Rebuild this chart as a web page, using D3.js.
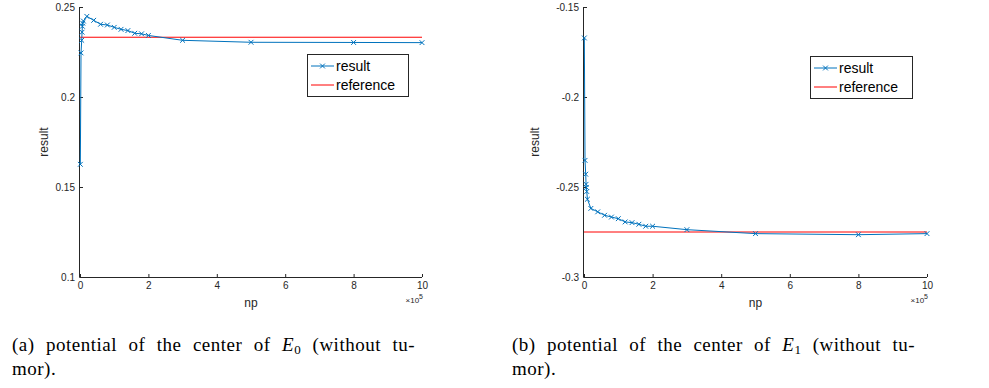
<!DOCTYPE html>
<html>
<head>
<meta charset="utf-8">
<script src="https://cdn.jsdelivr.net/npm/d3@7"></script>
<style>
  body { margin: 0; background: #fff; }
  svg { display: block; }
  .tick text { font-family: "Liberation Sans", Arial, sans-serif; font-size: 10px; fill: #262626; }
  .axis path, .axis line { stroke: #262626; }
</style>
</head>
<body>
<script>
// np values in units of 1e5
const npValues = [0.01, 0.03, 0.05, 0.06, 0.07, 0.08, 0.1, 0.2, 0.4, 0.6, 0.8, 1.0, 1.2, 1.4, 1.6, 1.8, 2.0, 3, 5, 8, 10];
const resultE0 = [0.1626, 0.2245, 0.2315, 0.236, 0.2393, 0.241, 0.2422, 0.2448, 0.2426, 0.2404, 0.2400, 0.2387, 0.2376, 0.2369, 0.2354, 0.2351, 0.2342, 0.2315, 0.2304, 0.2303, 0.2302];
const resultE1 = [-0.1672, -0.2352, -0.2429, -0.2485, -0.2502, -0.2525, -0.2568, -0.2619, -0.2638, -0.2657, -0.2667, -0.2676, -0.2694, -0.2698, -0.2707, -0.2718, -0.2718, -0.2737, -0.2759, -0.2765, -0.2759];
const referenceE0 = 0.2332;
const referenceE1 = -0.2750;
const xTicks = [0, 2, 4, 6, 8, 10];
const yTicksE0 = [0.1, 0.15, 0.2, 0.25];
const yTicksE1 = [-0.3, -0.25, -0.2, -0.15];
const legendLabels = ["result", "reference"];

const width = 989;
const height = 388;
const blue = "#0072BD";
const red = "#FF0000";

const svg = d3.select("body").append("svg")
  .attr("width", width)
  .attr("height", height);

svg.append("rect").attr("width", width).attr("height", height).attr("fill", "#fff");

const panels = [
  { left: 80, right: 422, values: resultE0, ref: referenceE0, domain: [0.1, 0.25], yTicks: yTicksE0,
    legend: { x: 307, y: 54, w: 101, h: 42 }, ylabelX: 48,
    caption: { x: 12, w: 403, letter: "(a)", sub: "0" } },
  { left: 584, right: 927, values: resultE1, ref: referenceE1, domain: [-0.3, -0.15], yTicks: yTicksE1,
    legend: { x: 810, y: 56, w: 102, h: 42 }, ylabelX: 539,
    caption: { x: 512, w: 403, letter: "(b)", sub: "1" } }
];

const plotTop = 7;
const plotBottom = 277;

panels.forEach(function (p) {
  const x = d3.scaleLinear().domain([0, 10]).range([p.left, p.right]);
  const y = d3.scaleLinear().domain(p.domain).range([plotBottom, plotTop]);
  const g = svg.append("g");

  // axes
  g.append("g")
    .attr("class", "axis")
    .attr("transform", "translate(0," + plotBottom + ")")
    .call(d3.axisBottom(x).tickValues(xTicks).tickFormat(d3.format("d")).tickSizeInner(-3).tickSizeOuter(0).tickPadding(5))
    .call(function (a) { a.select(".domain").attr("d", "M" + (p.left - 0.5) + ",0.5H" + p.right); });

  g.append("g")
    .attr("class", "axis")
    .attr("transform", "translate(" + p.left + ",0)")
    .call(d3.axisLeft(y).tickValues(p.yTicks).tickFormat(function (d) { return String(+d.toFixed(2)); }).tickSizeInner(-3).tickSizeOuter(0).tickPadding(5))
    .call(function (a) { a.select(".domain").attr("d", "M-0.5," + plotTop + "V" + (plotBottom + 0.5)); });

  // axis labels
  g.append("text")
    .attr("x", (p.left + p.right) / 2)
    .attr("y", 307)
    .attr("text-anchor", "middle")
    .attr("font-family", "Liberation Sans, Arial, sans-serif")
    .attr("font-size", 12)
    .attr("fill", "#262626")
    .text("np");

  const exp = g.append("text")
    .attr("x", p.right + 1)
    .attr("y", 303)
    .attr("text-anchor", "end")
    .attr("font-family", "Liberation Sans, Arial, sans-serif")
    .attr("font-size", 8)
    .attr("fill", "#262626");
  exp.append("tspan").text("\u00d710");
  exp.append("tspan").attr("dy", -4).attr("font-size", 7).text("5");

  g.append("text")
    .attr("transform", "translate(" + p.ylabelX + "," + ((plotTop + plotBottom) / 2) + ") rotate(-90)")
    .attr("text-anchor", "middle")
    .attr("font-family", "Liberation Sans, Arial, sans-serif")
    .attr("font-size", 12)
    .attr("fill", "#262626")
    .text("result");

  // reference line
  g.append("line")
    .attr("x1", x(0)).attr("x2", x(10))
    .attr("y1", y(p.ref)).attr("y2", y(p.ref))
    .attr("stroke", red).attr("stroke-width", 1);

  // result line
  const pts = npValues.map(function (v, i) { return [v, p.values[i]]; });
  const line = d3.line().x(function (d) { return x(d[0]); }).y(function (d) { return y(d[1]); });
  g.append("path")
    .datum(pts)
    .attr("d", line)
    .attr("fill", "none")
    .attr("stroke", blue)
    .attr("stroke-width", 1);

  const m = 2.4;
  g.selectAll(".mark")
    .data(pts)
    .enter()
    .append("path")
    .attr("class", "mark")
    .attr("d", function (d) {
      const cx = x(d[0]), cy = y(d[1]);
      return "M" + (cx - m) + "," + (cy - m) + "L" + (cx + m) + "," + (cy + m) +
        "M" + (cx - m) + "," + (cy + m) + "L" + (cx + m) + "," + (cy - m);
    })
    .attr("stroke", blue)
    .attr("stroke-width", 1)
    .attr("fill", "none");

  // legend
  const L = p.legend;
  const lg = g.append("g");
  lg.append("rect")
    .attr("x", L.x + 0.5).attr("y", L.y + 0.5)
    .attr("width", L.w).attr("height", L.h)
    .attr("fill", "#fff").attr("stroke", "#262626").attr("stroke-width", 1);
  legendLabels.forEach(function (label, i) {
    const ly = L.y + 12 + i * 19;
    lg.append("line")
      .attr("x1", L.x + 4).attr("x2", L.x + 27)
      .attr("y1", ly).attr("y2", ly)
      .attr("stroke", i === 0 ? blue : red).attr("stroke-width", 1);
    if (i === 0) {
      const cx = L.x + 15.5;
      lg.append("path")
        .attr("d", "M" + (cx - m) + "," + (ly - m) + "L" + (cx + m) + "," + (ly + m) +
          "M" + (cx - m) + "," + (ly + m) + "L" + (cx + m) + "," + (ly - m))
        .attr("stroke", blue).attr("stroke-width", 1);
    }
    lg.append("text")
      .attr("x", L.x + 29)
      .attr("y", ly + 5)
      .attr("font-family", "Liberation Sans, Arial, sans-serif")
      .attr("font-size", 14)
      .attr("fill", "#000")
      .text(label);
  });

  // caption, justified by word spacing
  const C = p.caption;
  const cap = svg.append("text")
    .attr("x", C.x)
    .attr("y", 351)
    .attr("font-family", "Liberation Serif, Times New Roman, serif")
    .attr("font-size", 19)
    .attr("letter-spacing", 0.5)
    .attr("fill", "#000");
  cap.append("tspan").text(C.letter + " potential of the center of ");
  cap.append("tspan").attr("font-style", "italic").text("E");
  cap.append("tspan").attr("dy", 3).attr("font-size", 13).text(C.sub);
  cap.append("tspan").attr("dy", -3).text(" (without tu-");
  const len = cap.node().getComputedTextLength();
  cap.attr("word-spacing", Math.max(0, (C.w - len) / 8));

  svg.append("text")
    .attr("x", C.x)
    .attr("y", 375)
    .attr("font-family", "Liberation Serif, Times New Roman, serif")
    .attr("font-size", 19)
    .attr("letter-spacing", 0.5)
    .attr("fill", "#000")
    .text("mor).");
});
</script>
</body>
</html>
